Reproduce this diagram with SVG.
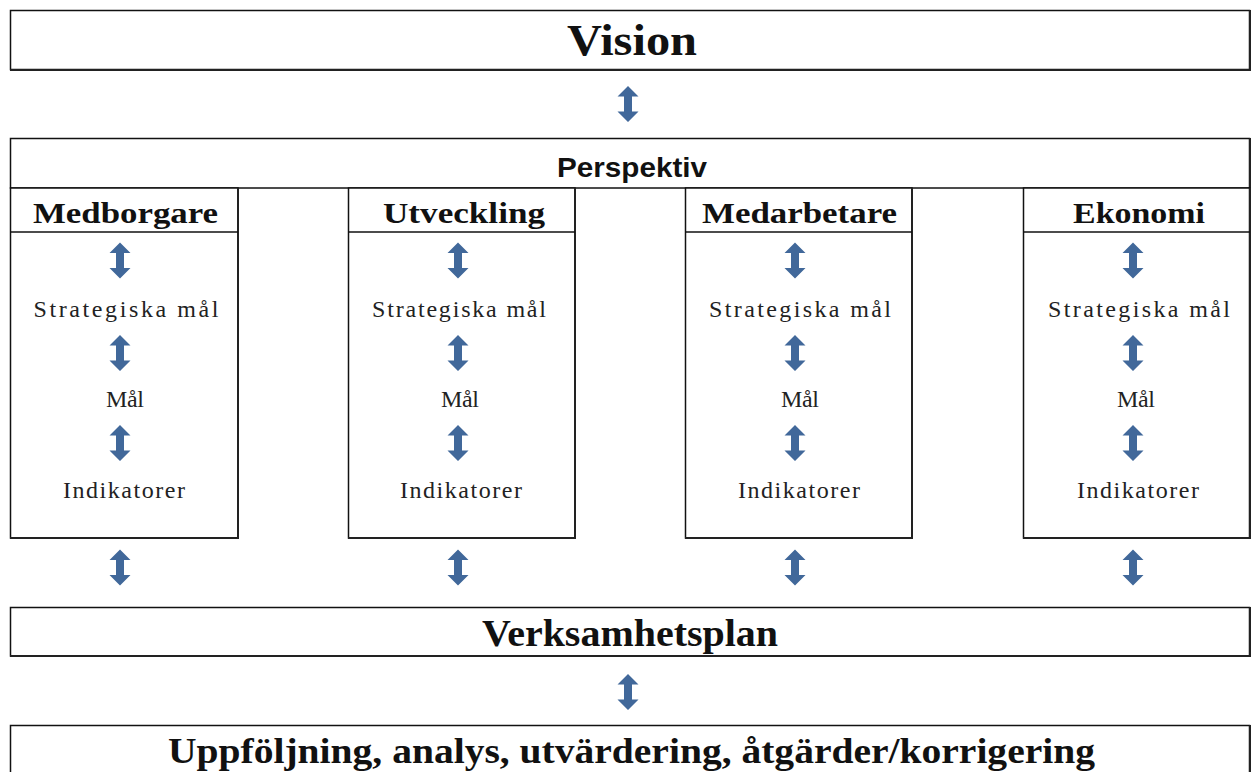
<svg xmlns="http://www.w3.org/2000/svg" width="1251" height="772" viewBox="0 0 1251 772">
<style>
.box{fill:#fff;stroke:#111;stroke-width:1.5}
.sh{fill:none;stroke:#222;stroke-width:2}
.hb{font-family:"Liberation Serif",serif;font-weight:bold;fill:#111;text-anchor:middle}
.tx{font-family:"Liberation Serif",serif;fill:#222;text-anchor:middle;font-size:24px}
.ps{font-family:"Liberation Sans",sans-serif;font-weight:bold;fill:#111;text-anchor:middle;font-size:28px}
.ar{fill:#41689A}
</style>
<defs>
<path id="arr" d="M0,-18 L10.5,-7.5 L4,-7.5 L4,7.5 L10.5,7.5 L0,18 L-10.5,7.5 L-4,7.5 L-4,-7.5 L-10.5,-7.5 Z"/>
</defs>
<rect width="1251" height="772" fill="#fff"/>

<g id="vision">
<rect class="box" x="10.5" y="10.5" width="1239" height="59"/>
<path class="sh" d="M10,70 H1250 V10"/>
<text class="hb" x="632" y="55" font-size="44" textLength="130" lengthAdjust="spacingAndGlyphs">Vision</text>
</g>

<g id="perspektiv">
<rect class="box" x="10.5" y="138.5" width="1239" height="49.5"/>
<path class="sh" d="M1250,138 V188"/>
<text class="ps" x="632" y="177" textLength="150" lengthAdjust="spacingAndGlyphs">Perspektiv</text>
</g>

<g id="medborgare">
<rect class="box" x="10.5" y="188" width="227.5" height="350"/>
<path class="sh" d="M10,538 H238 V188"/>
<line x1="10" y1="232" x2="238" y2="232" stroke="#111" stroke-width="1.5"/>
<text class="hb" x="125.5" y="223" font-size="30" textLength="185" lengthAdjust="spacingAndGlyphs">Medborgare</text>
<text class="tx" x="126" y="317" textLength="185" lengthAdjust="spacing">Strategiska mål</text>
<text class="tx" x="125" y="407" textLength="38" lengthAdjust="spacing">Mål</text>
<text class="tx" x="124" y="498" textLength="122" lengthAdjust="spacing">Indikatorer</text>
</g>

<g id="utveckling">
<rect class="box" x="348.5" y="188" width="226.5" height="350"/>
<path class="sh" d="M348,538 H575 V188"/>
<line x1="348" y1="232" x2="575" y2="232" stroke="#111" stroke-width="1.5"/>
<text class="hb" x="464" y="223" font-size="30" textLength="162" lengthAdjust="spacingAndGlyphs">Utveckling</text>
<text class="tx" x="459" y="317" textLength="174" lengthAdjust="spacing">Strategiska mål</text>
<text class="tx" x="460" y="407" textLength="38" lengthAdjust="spacing">Mål</text>
<text class="tx" x="461" y="498" textLength="122" lengthAdjust="spacing">Indikatorer</text>
</g>

<g id="medarbetare">
<rect class="box" x="685.5" y="188" width="226.5" height="350"/>
<path class="sh" d="M685,538 H912 V188"/>
<line x1="685" y1="232" x2="912" y2="232" stroke="#111" stroke-width="1.5"/>
<text class="hb" x="799.5" y="223" font-size="30" textLength="195" lengthAdjust="spacingAndGlyphs">Medarbetare</text>
<text class="tx" x="800" y="317" textLength="182" lengthAdjust="spacing">Strategiska mål</text>
<text class="tx" x="800" y="407" textLength="38" lengthAdjust="spacing">Mål</text>
<text class="tx" x="799" y="498" textLength="122" lengthAdjust="spacing">Indikatorer</text>
</g>

<g id="ekonomi">
<rect class="box" x="1023.5" y="188" width="226" height="350"/>
<path class="sh" d="M1023,538 H1250 V188"/>
<line x1="1023" y1="232" x2="1250" y2="232" stroke="#111" stroke-width="1.5"/>
<text class="hb" x="1139" y="223" font-size="30" textLength="132" lengthAdjust="spacingAndGlyphs">Ekonomi</text>
<text class="tx" x="1139" y="317" textLength="182" lengthAdjust="spacing">Strategiska mål</text>
<text class="tx" x="1136" y="407" textLength="38" lengthAdjust="spacing">Mål</text>
<text class="tx" x="1138" y="498" textLength="122" lengthAdjust="spacing">Indikatorer</text>
</g>

<g id="verksamhetsplan">
<rect class="box" x="10.5" y="607.5" width="1239" height="48.5"/>
<path class="sh" d="M10,656 H1250 V607"/>
<text class="hb" x="630" y="646" font-size="38" textLength="296" lengthAdjust="spacingAndGlyphs">Verksamhetsplan</text>
</g>

<g id="uppfoljning">
<rect class="box" x="10.5" y="725.5" width="1239" height="60"/>
<path class="sh" d="M1250,725 V772"/>
<text class="hb" x="631.5" y="763" font-size="35" textLength="927" lengthAdjust="spacingAndGlyphs">Uppföljning, analys, utvärdering, åtgärder/korrigering</text>
</g>

<g id="connectors" class="ar">
<use href="#arr" x="628" y="104"/>
<use href="#arr" x="628" y="692"/>
<use href="#arr" x="120" y="260.5"/>
<use href="#arr" x="120" y="353"/>
<use href="#arr" x="120" y="443"/>
<use href="#arr" x="120" y="567.5"/>
<use href="#arr" x="458" y="260.5"/>
<use href="#arr" x="458" y="353"/>
<use href="#arr" x="458" y="443"/>
<use href="#arr" x="458" y="567.5"/>
<use href="#arr" x="795" y="260.5"/>
<use href="#arr" x="795" y="353"/>
<use href="#arr" x="795" y="443"/>
<use href="#arr" x="795" y="567.5"/>
<use href="#arr" x="1133" y="260.5"/>
<use href="#arr" x="1133" y="353"/>
<use href="#arr" x="1133" y="443"/>
<use href="#arr" x="1133" y="567.5"/>
</g>
</svg>
